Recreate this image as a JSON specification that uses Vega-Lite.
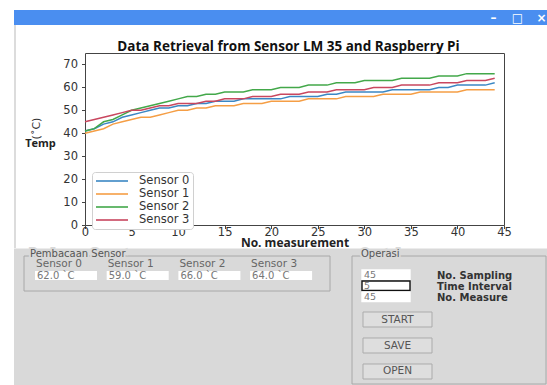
{
  "$schema": "https://vega.github.io/schema/vega-lite/v6.json",
  "width": 533,
  "height": 375,
  "padding": {"left": 14, "top": 10, "right": 0, "bottom": 0},
  "autosize": {"type": "none"},
  "background": "white",
  "config": {"view": {"stroke": null}, "font": "DejaVu Sans"},
  "title": {"text": "Data Retrieval from Sensor LM 35 and Raspberry Pi", "font": "Open Sans", "fontWeight": "bold", "fontSize": 13.5, "color": "#111", "frame": "group", "anchor": "middle", "baseline": "alphabetic", "offset": -54, "dx": 8},
  "layer": [
    {
      "data": {"values": [{"part": "title bar"}]},
      "mark": {"type": "rect", "fill": "#4a8ef0"},
      "encoding": {
        "x": {"datum": "window", "type": "nominal", "scale": {"type": "band", "domain": ["window"], "range": [0, 533], "paddingInner": 0, "paddingOuter": 0}, "axis": null},
        "y": {"datum": "title bar", "type": "nominal", "scale": {"type": "band", "domain": ["title bar"], "range": [0, 15], "paddingInner": 0, "paddingOuter": 0}, "axis": null}
      }
    },
    {
      "data": {"values": [{"control": "minimize", "glyph": "–"}, {"control": "maximize", "glyph": "□"}, {"control": "close", "glyph": "×"}]},
      "mark": {"type": "text", "color": "white", "fontSize": 12, "fontWeight": "bold", "baseline": "middle", "align": "center"},
      "encoding": {
        "x": {"field": "control", "type": "nominal", "sort": null, "scale": {"type": "point", "domain": ["minimize", "maximize", "close"], "range": [479.5, 527.5], "padding": 0}, "axis": null},
        "y": {"datum": "title bar", "type": "nominal", "scale": {"type": "point", "domain": ["title bar"], "range": [0, 15], "padding": 0.5}, "axis": null},
        "text": {"field": "glyph"}
      }
    },
    {
      "data": {"values": [{"part": "border"}]},
      "mark": {"type": "rect", "fill": "#dcdcdc"},
      "encoding": {
        "x": {"datum": "border", "type": "nominal", "scale": {"type": "band", "domain": ["border"], "range": [0, 2], "paddingInner": 0, "paddingOuter": 0}, "axis": null},
        "y": {"datum": "body", "type": "nominal", "scale": {"type": "band", "domain": ["body"], "range": [15, 238], "paddingInner": 0, "paddingOuter": 0}, "axis": null}
      }
    },
    {
      "data": {"values": [{"part": "panel"}]},
      "mark": {"type": "rect", "fill": "#d9d9d9"},
      "encoding": {
        "x": {"datum": "window", "type": "nominal", "scale": {"type": "band", "domain": ["window"], "range": [0, 533], "paddingInner": 0, "paddingOuter": 0}, "axis": null},
        "y": {"datum": "panel", "type": "nominal", "scale": {"type": "band", "domain": ["panel"], "range": [238.5, 375], "paddingInner": 0, "paddingOuter": 0}, "axis": null}
      }
    },
    {
      "data": {"values": [
        {"n": 0, "Sensor 0": 41, "Sensor 1": 40, "Sensor 2": 41, "Sensor 3": 45},
        {"n": 1, "Sensor 0": 42, "Sensor 1": 41, "Sensor 2": 42, "Sensor 3": 46},
        {"n": 2, "Sensor 0": 44, "Sensor 1": 42, "Sensor 2": 45, "Sensor 3": 47},
        {"n": 3, "Sensor 0": 45, "Sensor 1": 44, "Sensor 2": 46, "Sensor 3": 48},
        {"n": 4, "Sensor 0": 47, "Sensor 1": 45, "Sensor 2": 48, "Sensor 3": 49},
        {"n": 5, "Sensor 0": 48, "Sensor 1": 46, "Sensor 2": 50, "Sensor 3": 50},
        {"n": 6, "Sensor 0": 49, "Sensor 1": 47, "Sensor 2": 51, "Sensor 3": 50},
        {"n": 7, "Sensor 0": 50, "Sensor 1": 47, "Sensor 2": 52, "Sensor 3": 51},
        {"n": 8, "Sensor 0": 51, "Sensor 1": 48, "Sensor 2": 53, "Sensor 3": 52},
        {"n": 9, "Sensor 0": 51, "Sensor 1": 49, "Sensor 2": 54, "Sensor 3": 52},
        {"n": 10, "Sensor 0": 52, "Sensor 1": 50, "Sensor 2": 55, "Sensor 3": 53},
        {"n": 11, "Sensor 0": 52, "Sensor 1": 50, "Sensor 2": 56, "Sensor 3": 53},
        {"n": 12, "Sensor 0": 53, "Sensor 1": 51, "Sensor 2": 56, "Sensor 3": 53},
        {"n": 13, "Sensor 0": 53, "Sensor 1": 51, "Sensor 2": 57, "Sensor 3": 54},
        {"n": 14, "Sensor 0": 54, "Sensor 1": 52, "Sensor 2": 57, "Sensor 3": 54},
        {"n": 15, "Sensor 0": 54, "Sensor 1": 52, "Sensor 2": 58, "Sensor 3": 55},
        {"n": 16, "Sensor 0": 54, "Sensor 1": 52, "Sensor 2": 58, "Sensor 3": 55},
        {"n": 17, "Sensor 0": 55, "Sensor 1": 53, "Sensor 2": 58, "Sensor 3": 55},
        {"n": 18, "Sensor 0": 55, "Sensor 1": 53, "Sensor 2": 59, "Sensor 3": 56},
        {"n": 19, "Sensor 0": 55, "Sensor 1": 53, "Sensor 2": 59, "Sensor 3": 56},
        {"n": 20, "Sensor 0": 55, "Sensor 1": 54, "Sensor 2": 59, "Sensor 3": 56},
        {"n": 21, "Sensor 0": 55, "Sensor 1": 54, "Sensor 2": 60, "Sensor 3": 57},
        {"n": 22, "Sensor 0": 56, "Sensor 1": 54, "Sensor 2": 60, "Sensor 3": 57},
        {"n": 23, "Sensor 0": 56, "Sensor 1": 54, "Sensor 2": 60, "Sensor 3": 57},
        {"n": 24, "Sensor 0": 56, "Sensor 1": 55, "Sensor 2": 61, "Sensor 3": 58},
        {"n": 25, "Sensor 0": 56, "Sensor 1": 55, "Sensor 2": 61, "Sensor 3": 58},
        {"n": 26, "Sensor 0": 57, "Sensor 1": 55, "Sensor 2": 61, "Sensor 3": 58},
        {"n": 27, "Sensor 0": 57, "Sensor 1": 55, "Sensor 2": 62, "Sensor 3": 59},
        {"n": 28, "Sensor 0": 58, "Sensor 1": 56, "Sensor 2": 62, "Sensor 3": 59},
        {"n": 29, "Sensor 0": 58, "Sensor 1": 56, "Sensor 2": 62, "Sensor 3": 59},
        {"n": 30, "Sensor 0": 58, "Sensor 1": 56, "Sensor 2": 63, "Sensor 3": 59},
        {"n": 31, "Sensor 0": 58, "Sensor 1": 56, "Sensor 2": 63, "Sensor 3": 60},
        {"n": 32, "Sensor 0": 58, "Sensor 1": 57, "Sensor 2": 63, "Sensor 3": 60},
        {"n": 33, "Sensor 0": 59, "Sensor 1": 57, "Sensor 2": 63, "Sensor 3": 60},
        {"n": 34, "Sensor 0": 59, "Sensor 1": 57, "Sensor 2": 64, "Sensor 3": 61},
        {"n": 35, "Sensor 0": 59, "Sensor 1": 57, "Sensor 2": 64, "Sensor 3": 61},
        {"n": 36, "Sensor 0": 59, "Sensor 1": 58, "Sensor 2": 64, "Sensor 3": 61},
        {"n": 37, "Sensor 0": 59, "Sensor 1": 58, "Sensor 2": 64, "Sensor 3": 61},
        {"n": 38, "Sensor 0": 60, "Sensor 1": 58, "Sensor 2": 65, "Sensor 3": 62},
        {"n": 39, "Sensor 0": 60, "Sensor 1": 58, "Sensor 2": 65, "Sensor 3": 62},
        {"n": 40, "Sensor 0": 61, "Sensor 1": 58, "Sensor 2": 65, "Sensor 3": 62},
        {"n": 41, "Sensor 0": 61, "Sensor 1": 59, "Sensor 2": 66, "Sensor 3": 63},
        {"n": 42, "Sensor 0": 61, "Sensor 1": 59, "Sensor 2": 66, "Sensor 3": 63},
        {"n": 43, "Sensor 0": 61, "Sensor 1": 59, "Sensor 2": 66, "Sensor 3": 63},
        {"n": 44, "Sensor 0": 62, "Sensor 1": 59, "Sensor 2": 66, "Sensor 3": 64}
      ]},
      "transform": [{"fold": ["Sensor 0", "Sensor 1", "Sensor 2", "Sensor 3"], "as": ["sensor", "temp"]}],
      "layer": [
        {
          "mark": {"type": "line", "strokeWidth": 1.5},
          "encoding": {
            "x": {"field": "n", "type": "quantitative", "scale": {"domain": [0, 45], "range": [71, 490], "nice": false, "zero": false},
              "axis": {"orient": "bottom", "offset": -160, "values": [0, 5, 10, 15, 20, 25, 30, 35, 40, 45], "title": "No. measurement", "titleFont": "Open Sans", "titleFontWeight": "bold", "titleFontSize": 12, "titleColor": "#222", "titleY": 17, "titleBaseline": "middle",
                "labelFont": "DejaVu Sans", "labelFontSize": 11.5, "labelColor": "#333", "labelFlush": false, "labelOverlap": false, "tickSize": 3.5, "tickColor": "#444", "domainColor": "#444", "labelPadding": -2, "grid": false}},
            "y": {"field": "temp", "type": "quantitative", "scale": {"domain": [0, 75], "range": [215, 43], "nice": false, "zero": false},
              "axis": {"orient": "left", "offset": -71, "values": [0, 10, 20, 30, 40, 50, 60, 70], "title": "(˚C)", "titleX": -49, "titleY": 118, "titleAngle": -90, "titleAlign": "center", "titleBaseline": "middle", "titleFont": "DejaVu Sans", "titleFontWeight": "normal", "titleFontSize": 11, "titleColor": "#333",
                "labelFont": "DejaVu Sans", "labelFontSize": 11.5, "labelColor": "#333", "labelFlush": false, "labelOverlap": false, "tickSize": 3.5, "tickColor": "#444", "domainColor": "#444", "labelPadding": 4, "grid": false}},
            "color": {"field": "sensor", "type": "nominal",
              "scale": {"domain": ["Sensor 0", "Sensor 1", "Sensor 2", "Sensor 3"], "range": ["#3b87c4", "#f59e45", "#43a84a", "#c9475f"]},
              "legend": {"orient": "none", "legendX": 78, "legendY": 162, "title": null, "fillColor": "white", "strokeColor": "#d0d0d0", "cornerRadius": 3, "padding": 3,
                "labelFont": "DejaVu Sans", "labelFontSize": 11.5, "labelColor": "#333", "symbolType": "M-3.2,0H3.2", "symbolSize": 100, "symbolStrokeWidth": 1.6, "symbolOffset": 11, "rowPadding": 1, "labelOffset": 21}}
          }
        },
        {
          "mark": {"type": "line", "opacity": 0},
          "encoding": {
            "x": {"field": "n", "type": "quantitative", "axis": {"orient": "top", "offset": -43, "labels": false, "ticks": false, "title": null, "grid": false, "domainColor": "#444"}},
            "y": {"field": "temp", "type": "quantitative", "axis": {"orient": "right", "offset": -43, "labels": false, "ticks": false, "title": null, "grid": false, "domainColor": "#444"}},
            "detail": {"field": "sensor"}
          }
        },
        {
          "mark": {"type": "line", "opacity": 0},
          "encoding": {
            "x": {"field": "n", "type": "quantitative", "axis": null},
            "y": {"field": "temp", "type": "quantitative", "axis": {"orient": "left", "offset": -71, "title": "Temp", "titleAngle": 0, "titleX": -45, "titleY": 133, "titleAlign": "center", "titleBaseline": "middle", "titleFont": "Open Sans", "titleFontWeight": "bold", "titleFontSize": 11, "titleColor": "#222", "labels": false, "ticks": false, "domain": false, "grid": false}},
            "detail": {"field": "sensor"}
          }
        }
      ],
      "resolve": {"axis": {"x": "independent", "y": "independent"}}
    },
    {
      "data": {"values": [{"group": "Pembacaan Sensor"}]},
      "encoding": {
        "x": {"field": "group", "type": "nominal", "scale": {"type": "band", "range": [10, 316], "paddingInner": 0, "paddingOuter": 0}, "axis": null},
        "y": {"field": "group", "type": "nominal", "scale": {"type": "band", "range": [246, 281], "paddingInner": 0, "paddingOuter": 0}, "axis": null}
      },
      "layer": [
        {"mark": {"type": "rect", "fill": "#d9d9d9", "stroke": "#a8a8a8", "strokeWidth": 1}},
        {"mark": {"type": "text", "align": "left", "baseline": "middle", "dx": 6, "dy": -2, "font": "DejaVu Sans", "fontSize": 10, "color": "#d9d9d9", "stroke": "#d9d9d9", "strokeWidth": 4},
          "encoding": {"x": {"field": "group", "type": "nominal", "bandPosition": 0}, "y": {"field": "group", "type": "nominal", "bandPosition": 0}, "text": {"field": "group"}}},
        {"mark": {"type": "text", "align": "left", "baseline": "middle", "dx": 6, "dy": -2, "font": "DejaVu Sans", "fontSize": 10, "color": "#555"},
          "encoding": {"x": {"field": "group", "type": "nominal", "bandPosition": 0}, "y": {"field": "group", "type": "nominal", "bandPosition": 0}, "text": {"field": "group"}}}
      ]
    },
    {
      "data": {"values": [
        {"sensor": "Sensor 0", "reading": "62.0 `C"},
        {"sensor": "Sensor 1", "reading": "59.0 `C"},
        {"sensor": "Sensor 2", "reading": "66.0 `C"},
        {"sensor": "Sensor 3", "reading": "64.0 `C"}
      ]},
      "encoding": {
        "x": {"field": "sensor", "type": "nominal", "scale": {"type": "band", "domain": ["Sensor 0", "Sensor 1", "Sensor 2", "Sensor 3"], "range": [21, 298.1], "paddingInner": 0.135, "paddingOuter": 0}, "axis": null}
      },
      "layer": [
        {"mark": {"type": "rect", "fill": "white"},
          "encoding": {"y": {"datum": "entry", "type": "nominal", "scale": {"type": "band", "domain": ["caption", "entry"], "range": [250, 270], "paddingInner": 0.182, "paddingOuter": 0}, "axis": null}}},
        {"mark": {"type": "text", "align": "left", "baseline": "middle", "dx": 2, "font": "DejaVu Sans", "fontSize": 10, "color": "#777"},
          "encoding": {"x": {"field": "sensor", "type": "nominal", "bandPosition": 0}, "y": {"datum": "entry", "type": "nominal"}, "text": {"field": "reading"}}},
        {"mark": {"type": "text", "align": "left", "baseline": "middle", "dx": 1, "font": "DejaVu Sans", "fontSize": 10.5, "color": "#666"},
          "encoding": {"x": {"field": "sensor", "type": "nominal", "bandPosition": 0}, "y": {"datum": "caption", "type": "nominal"}, "text": {"field": "sensor"}}}
      ]
    },
    {
      "data": {"values": [{"group": "Operasi"}]},
      "encoding": {
        "x": {"field": "group", "type": "nominal", "scale": {"type": "band", "range": [338, 532], "paddingInner": 0, "paddingOuter": 0}, "axis": null},
        "y": {"field": "group", "type": "nominal", "scale": {"type": "band", "range": [246, 374], "paddingInner": 0, "paddingOuter": 0}, "axis": null}
      },
      "layer": [
        {"mark": {"type": "rect", "fill": "#d9d9d9", "stroke": "#a8a8a8", "strokeWidth": 1}},
        {"mark": {"type": "text", "align": "left", "baseline": "middle", "dx": 9, "dy": -2, "font": "DejaVu Sans", "fontSize": 10, "color": "#d9d9d9", "stroke": "#d9d9d9", "strokeWidth": 4},
          "encoding": {"x": {"field": "group", "type": "nominal", "bandPosition": 0}, "y": {"field": "group", "type": "nominal", "bandPosition": 0}, "text": {"field": "group"}}},
        {"mark": {"type": "text", "align": "left", "baseline": "middle", "dx": 9, "dy": -2, "font": "DejaVu Sans", "fontSize": 10, "color": "#555"},
          "encoding": {"x": {"field": "group", "type": "nominal", "bandPosition": 0}, "y": {"field": "group", "type": "nominal", "bandPosition": 0}, "text": {"field": "group"}}}
      ]
    },
    {
      "data": {"values": [
        {"param": "No. Sampling", "value": "45"},
        {"param": "Time Interval", "value": "5"},
        {"param": "No. Measure", "value": "45"}
      ]},
      "encoding": {
        "y": {"field": "param", "type": "nominal", "scale": {"type": "band", "domain": ["No. Sampling", "Time Interval", "No. Measure"], "range": [260, 291.5], "paddingInner": 0.136, "paddingOuter": 0}, "axis": null}
      },
      "layer": [
        {"mark": {"type": "rect", "fill": "white", "strokeWidth": 1.4},
          "encoding": {
            "x": {"datum": "entry", "type": "nominal", "scale": {"type": "band", "domain": ["entry", "label"], "range": [348, 471], "paddingInner": 0.36, "paddingOuter": 0}, "axis": null},
            "stroke": {"field": "param", "type": "nominal", "scale": {"domain": ["No. Sampling", "Time Interval", "No. Measure"], "range": ["white", "#111111", "white"]}, "legend": null}
          }},
        {"mark": {"type": "text", "align": "left", "baseline": "middle", "dx": 2, "font": "DejaVu Sans", "fontSize": 9.5, "color": "#777"},
          "encoding": {"x": {"datum": "entry", "type": "nominal", "bandPosition": 0}, "text": {"field": "value"}}},
        {"mark": {"type": "text", "align": "left", "baseline": "middle", "dy": 1, "font": "DejaVu Sans", "fontWeight": "bold", "fontSize": 10, "color": "#333"},
          "encoding": {"x": {"datum": "label", "type": "nominal", "bandPosition": 0}, "text": {"field": "param"}}}
      ]
    },
    {
      "data": {"values": [{"button": "START"}, {"button": "SAVE"}, {"button": "OPEN"}]},
      "encoding": {
        "x": {"datum": "button", "type": "nominal", "scale": {"type": "band", "domain": ["button"], "range": [349, 418], "paddingInner": 0, "paddingOuter": 0}, "axis": null},
        "y": {"field": "button", "type": "nominal", "scale": {"type": "band", "domain": ["START", "SAVE", "OPEN"], "range": [302, 369], "paddingInner": 0.423, "paddingOuter": 0}, "axis": null}
      },
      "layer": [
        {"mark": {"type": "rect", "fill": "#dedede", "stroke": "#ababab", "strokeWidth": 1}},
        {"mark": {"type": "text", "baseline": "middle", "align": "center", "font": "DejaVu Sans", "fontSize": 10.5, "color": "#555"},
          "encoding": {"text": {"field": "button"}}}
      ]
    }
  ],
  "resolve": {"scale": {"x": "independent", "y": "independent", "color": "independent", "stroke": "independent"}}
}
